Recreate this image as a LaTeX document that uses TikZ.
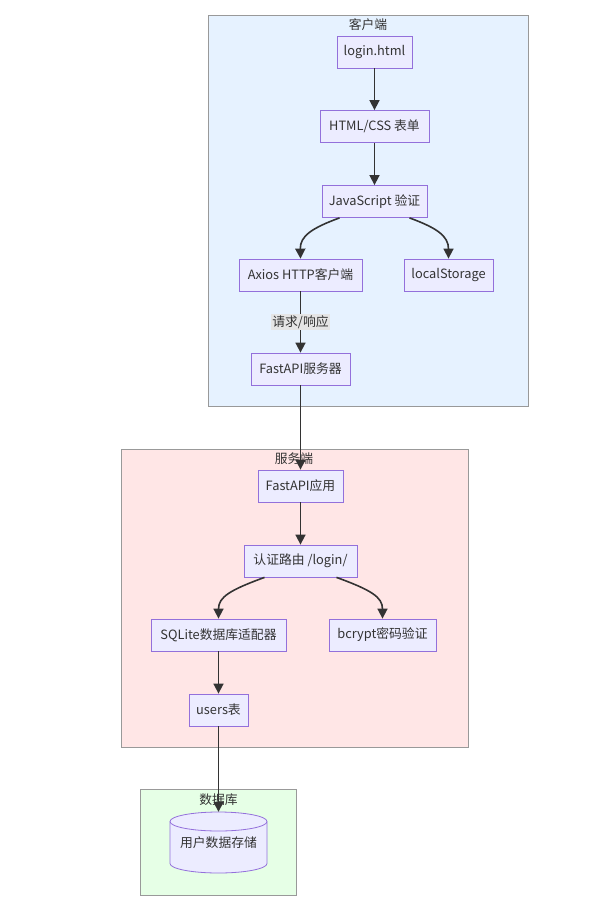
\documentclass[tikz,border=0pt]{standalone}
\usepackage{fontspec}
\setmainfont{Noto Sans CJK SC}
\usetikzlibrary{arrows.meta}
\definecolor{nodefill}{HTML}{ECECFF}
\definecolor{nodedraw}{HTML}{9370DB}
\definecolor{edgecol}{HTML}{333333}
\definecolor{clientfill}{HTML}{E6F2FF}
\definecolor{serverfill}{HTML}{FFE6E6}
\definecolor{dbfill}{HTML}{E6FFE6}
\definecolor{clusterdraw}{HTML}{999999}
\definecolor{labelbg}{HTML}{E5E5E5}
\begin{document}
\begin{tikzpicture}[x=1pt,y=-1pt,
  box/.style={draw=nodedraw, fill=nodefill, line width=0.8pt, inner sep=0pt,
    minimum height=32pt, font=\fontsize{12.8}{15}\selectfont, text=edgecol},
  cluster/.style={draw=clusterdraw, line width=0.9pt},
  ctitle/.style={font=\fontsize{12.8}{15}\selectfont, text=edgecol, inner sep=0pt},
  arr/.style={draw=edgecol, line width=1.6pt, -{Triangle[length=10pt,width=10pt]}},
  elabel/.style={fill=labelbg, inner sep=1pt, font=\fontsize{12.8}{15}\selectfont, text=edgecol}
]
\useasboundingbox (0,0) rectangle (603,908);
% clusters
\draw[cluster, fill=clientfill] (208,15) rectangle (528,406);
\draw[cluster, fill=serverfill] (121,449) rectangle (468,747);
\draw[cluster, fill=dbfill] (140,789) rectangle (296,895);
\node[ctitle] (tclient) at (368,25) {客户端};
\node[ctitle] (tserver) at (294,459) {服务端};
\node[ctitle] (tdb) at (218.5,800) {数据库};
% client nodes
\node[box, minimum width=75pt] (login) at (374.5,52) {login.html};
\node[box, minimum width=109pt] (form) at (374.5,126.5) {HTML/CSS 表单};
\node[box, minimum width=105pt] (js) at (374.5,201.5) {JavaScript 验证};
\node[box, minimum width=123pt] (axios) at (300.5,275) {Axios HTTP客户端};
\node[box, minimum width=89pt] (ls) at (448.5,275) {localStorage};
\node[box, minimum width=99pt] (fsrv) at (300.5,369) {FastAPI服务器};
% server nodes
\node[box, minimum width=85pt] (fapp) at (300.5,486) {FastAPI应用};
\node[box, minimum width=113pt] (route) at (300.5,561) {认证路由 /login/};
\node[box, minimum width=135pt] (sqlite) at (218.5,635) {SQLite数据库适配器};
\node[box, minimum width=107pt] (bcrypt) at (382.5,635) {bcrypt密码验证};
\node[box, minimum width=59pt] (users) at (218.5,710) {users表};
% database cylinder
\path[fill=nodefill] (170,821.5) -- (170,863.5)
  arc[start angle=180, end angle=360, x radius=48.5pt, y radius=9.5pt]
  -- (267,821.5)
  arc[start angle=0, end angle=180, x radius=48.5pt, y radius=9.5pt] -- cycle;
\draw[draw=nodedraw, line width=0.8pt] (170,821.5) -- (170,863.5)
  arc[start angle=180, end angle=360, x radius=48.5pt, y radius=9.5pt]
  -- (267,821.5);
\draw[draw=nodedraw, line width=0.8pt] (218.5,821.5) ellipse[x radius=48.5pt, y radius=9.5pt];
\node[inner sep=0pt, minimum width=97pt, minimum height=61pt,
  font=\fontsize{12.8}{15}\selectfont, text=edgecol] (db) at (218.5,842.5) {用户数据存储};
% edges
\draw[arr] ([xshift=-35pt]js.south) .. controls (312,228) and (300,236) .. (axios.north);
\draw[arr] ([xshift=35pt]js.south) .. controls (437,228) and (448.5,236) .. (ls.north);
\draw[arr] (login) -- (form);
\draw[arr] (form) -- (js);
\draw[arr] (axios) -- node[elabel] {请求/响应} (fsrv);
\draw[arr] (fsrv) -- (fapp);
\draw[arr] (fapp) -- (route);
\draw[arr] ([xshift=-36pt]route.south) .. controls (230,590) and (218.5,597) .. (sqlite.north);
\draw[arr] ([xshift=36pt]route.south) .. controls (371,590) and (382.5,597) .. (bcrypt.north);
\draw[arr] (sqlite) -- (users);
\draw[arr] (users) -- (db.north);
\end{tikzpicture}
\end{document}
